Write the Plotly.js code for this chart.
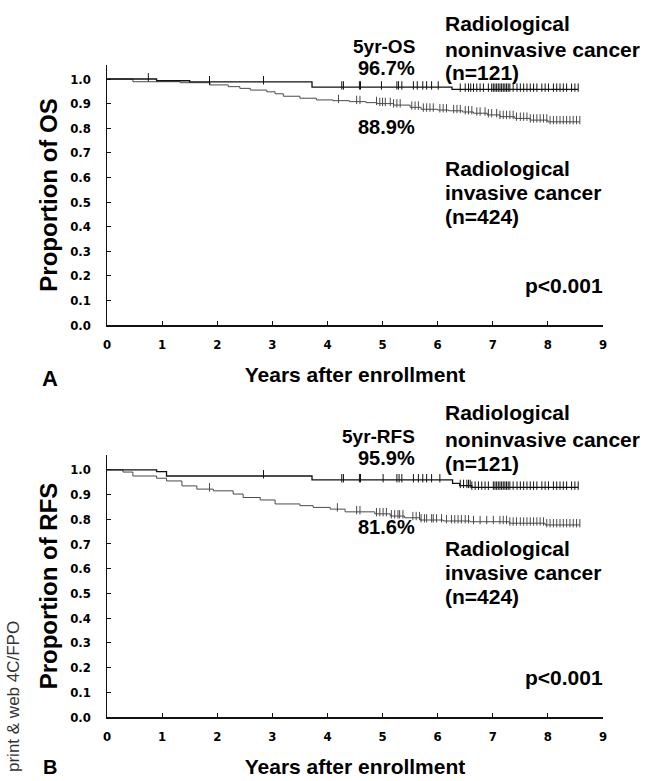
<!DOCTYPE html>
<html>
<head>
<meta charset="utf-8">
<script src="https://cdn.plot.ly/plotly-3.0.1.min.js"></script>
<style>html,body{margin:0;padding:0;background:#fff;}</style>
</head>
<body>
<div id="chart" style="width:646px;height:781px;"></div>
<script>
// ---------- data ----------
const xTicks = [0, 1, 2, 3, 4, 5, 6, 7, 8, 9];
const yTicks = [0, 0.1, 0.2, 0.3, 0.4, 0.5, 0.6, 0.7, 0.8, 0.9, 1.0];

// Panel A: overall survival
const osNonTime = [0, 0.9, 1.5, 3.72, 6.26, 8.55];
const osNonSurv = [1.0, 0.993, 0.988, 0.967, 0.958, 0.958];
const osNonCens = [0.75, 1.86, 2.84, 4.26, 4.29, 4.58, 4.60, 4.98, 5.26, 5.29, 5.35, 5.56, 5.63, 5.73, 5.80, 5.89, 6.01,
  6.41, 6.50, 6.56, 6.60, 6.65, 6.71, 6.77, 6.83, 6.92, 6.98, 7.01, 7.04, 7.07, 7.10, 7.13, 7.16, 7.19, 7.22, 7.25, 7.28, 7.31,
  7.37, 7.44, 7.50, 7.56, 7.62, 7.68, 7.74, 7.80, 7.89, 7.95, 8.01, 8.10, 8.16, 8.22, 8.28, 8.34, 8.43, 8.49, 8.55];

const osInvTime = [0, 0.47, 1.33, 1.87, 2.2, 2.41, 2.6, 2.9, 3.05, 3.2, 3.5, 3.8, 4.1, 4.4, 4.7, 4.9, 5.2, 5.5, 5.7, 6.0, 6.2, 6.45, 6.65, 6.9, 7.13, 7.4, 7.68, 8.0, 8.58];
const osInvSurv = [1.0, 0.989, 0.985, 0.976, 0.969, 0.962, 0.955, 0.948, 0.94, 0.93, 0.922, 0.915, 0.912, 0.908, 0.904, 0.9, 0.894, 0.885, 0.877, 0.874, 0.871, 0.866, 0.861, 0.854, 0.847, 0.84, 0.833, 0.826, 0.826];
const osInvCens = [1.86, 4.20, 4.53, 4.59, 4.89, 4.95, 5.00, 5.05, 5.14, 5.20, 5.26, 5.32, 5.53, 5.59, 5.65, 5.74, 5.80, 5.86, 5.92,
  6.04, 6.10, 6.16, 6.29, 6.35, 6.41, 6.50, 6.56, 6.62, 6.71, 6.77, 6.86, 6.92, 6.98, 7.07, 7.13, 7.19, 7.25, 7.31, 7.37, 7.43,
  7.50, 7.56, 7.62, 7.68, 7.74, 7.80, 7.86, 7.92, 7.98, 8.04, 8.10, 8.16, 8.22, 8.28, 8.34, 8.40, 8.46, 8.52, 8.58];

// Panel B: recurrence-free survival
const rfsNonTime = [0, 0.9, 1.08, 3.72, 6.27, 6.4, 6.62, 8.55];
const rfsNonSurv = [1.0, 0.993, 0.975, 0.959, 0.945, 0.936, 0.929, 0.929];
const rfsNonCens = [2.84, 4.26, 4.29, 4.58, 4.60, 5.01, 5.26, 5.30, 5.35, 5.56, 5.65, 5.73, 5.80, 5.89, 6.04,
  6.41, 6.47, 6.53, 6.56, 6.59, 6.62, 6.68, 6.74, 6.80, 6.86, 6.92, 7.01, 7.04, 7.07, 7.10, 7.13, 7.16, 7.19, 7.22, 7.25, 7.28, 7.31,
  7.37, 7.44, 7.50, 7.56, 7.62, 7.68, 7.74, 7.80, 7.89, 7.95, 8.01, 8.10, 8.16, 8.22, 8.28, 8.34, 8.43, 8.49, 8.55];

const rfsInvTime = [0, 0.29, 0.47, 0.9, 1.08, 1.36, 1.63, 1.93, 2.29, 2.47, 2.78, 3.05, 3.5, 3.74, 4.05, 4.32, 4.86, 5.14, 5.4, 5.68, 6.1, 6.59, 7.3, 7.95, 8.58];
const rfsInvSurv = [1.0, 0.991, 0.975, 0.966, 0.955, 0.935, 0.922, 0.915, 0.902, 0.888, 0.878, 0.862, 0.855, 0.848, 0.841, 0.83, 0.822, 0.813, 0.806, 0.797, 0.793, 0.79, 0.784, 0.777, 0.777];
const rfsInvCens = [1.86, 4.18, 4.53, 4.59, 4.89, 4.95, 5.01, 5.07, 5.16, 5.22, 5.28, 5.31, 5.37, 5.55, 5.61, 5.67, 5.70, 5.76, 5.80, 5.89, 5.92,
  5.98, 6.07, 6.16, 6.25, 6.31, 6.37, 6.43, 6.50, 6.56, 6.65, 6.77, 6.89, 7.01, 7.13, 7.19, 7.25, 7.31, 7.37, 7.43,
  7.50, 7.56, 7.62, 7.68, 7.74, 7.80, 7.86, 7.92, 7.98, 8.04, 8.10, 8.16, 8.22, 8.28, 8.34, 8.40, 8.46, 8.52, 8.58];

// ---------- helpers ----------
function stepAt(times, surv, t) {
  let s = surv[0];
  for (let i = 0; i < times.length; i++) { if (times[i] <= t) s = surv[i]; }
  return s;
}
const W = 646, H = 781, ML = 107, MR = 43, MT = 40, MB = 40;
const px = x => (x - ML) / (W - ML - MR);
const py = y => (H - MB - y) / (H - MT - MB);

const NARROW = '"DejaVu Sans Condensed", "Liberation Sans Narrow", sans-serif';
const SANS = '"Liberation Sans", Arial, sans-serif';
const DARK = '#111111', GREY = '#4a4a4a';

function curve(times, surv, color, width, xa, ya) {
  return { x: times, y: surv, xaxis: xa, yaxis: ya, type: 'scatter', mode: 'lines',
    line: { shape: 'hv', color: color, width: width }, hoverinfo: 'skip' };
}
function censor(cens, times, surv, color, xa, ya) {
  return { x: cens, y: cens.map(t => stepAt(times, surv, t) + 0.007), xaxis: xa, yaxis: ya,
    type: 'scatter', mode: 'markers', hoverinfo: 'skip',
    marker: { symbol: 'line-ns-open', size: 6, color: color, line: { color: color, width: 1 } } };
}

const data = [
  curve(osInvTime, osInvSurv, GREY, 1, 'x', 'y'),
  censor(osInvCens, osInvTime, osInvSurv, GREY, 'x', 'y'),
  curve(osNonTime, osNonSurv, DARK, 1.3, 'x', 'y'),
  censor(osNonCens, osNonTime, osNonSurv, DARK, 'x', 'y'),
  curve(rfsInvTime, rfsInvSurv, GREY, 1, 'x2', 'y2'),
  censor(rfsInvCens, rfsInvTime, rfsInvSurv, GREY, 'x2', 'y2'),
  curve(rfsNonTime, rfsNonSurv, DARK, 1.3, 'x2', 'y2'),
  censor(rfsNonCens, rfsNonTime, rfsNonSurv, DARK, 'x2', 'y2')
];

function xAxis(anchor) {
  return { anchor: anchor, domain: [0, 1], range: [0, 9], tickvals: xTicks, ticktext: xTicks.map(String),
    ticks: 'inside', ticklen: 4, tickwidth: 1, tickcolor: DARK, showline: true, linecolor: DARK, linewidth: 1.5,
    showgrid: false, zeroline: false, ticklabelstandoff: 7,
    tickfont: { family: NARROW, size: 13, weight: 'bold', color: '#000' },
    title: { text: 'Years after enrollment', standoff: 16, font: { family: SANS, size: 21, weight: 'bold', color: '#000' } } };
}
function yAxis(anchor, domain, top, label) {
  return { anchor: anchor, domain: domain, range: [0, top], tickvals: yTicks, ticktext: yTicks.map(v => v.toFixed(1)),
    ticks: 'inside', ticklen: 4, tickwidth: 1, tickcolor: DARK, showline: true, linecolor: DARK, linewidth: 1.5,
    showgrid: false, zeroline: false, ticklabelstandoff: 12,
    tickfont: { family: NARROW, size: 13, weight: 'bold', color: '#000' },
    title: { text: label, standoff: 6, font: { family: SANS, size: 24, weight: 'bold', color: '#000' } } };
}

function txt(text, x, y, size, xanchor, extra) {
  return Object.assign({ text: text, xref: 'paper', yref: 'paper', x: px(x), y: py(y), xanchor: xanchor, yanchor: 'middle',
    showarrow: false, font: { family: SANS, size: size, weight: 'bold', color: '#000' } }, extra || {});
}

const annotations = [
  // Panel A
  txt('5yr-OS', 417, 47, 19, 'right'),
  txt('96.7%', 417, 68, 20, 'right'),
  txt('88.9%', 417, 127, 20, 'right'),
  txt('Radiological', 443, 23, 21, 'left'),
  txt('noninvasive cancer', 443, 49, 21, 'left'),
  txt('(n=121)', 443, 73, 21, 'left'),
  txt('Radiological', 443, 168, 21, 'left'),
  txt('invasive cancer', 443, 193, 21, 'left'),
  txt('(n=424)', 443, 216, 21, 'left'),
  txt('p&lt;0.001', 605, 285, 21, 'right'),
  txt('A', 50, 379, 22, 'center'),
  // Panel B
  txt('5yr-RFS', 417, 437, 19, 'right'),
  txt('95.9%', 417, 458, 20, 'right'),
  txt('81.6%', 417, 527, 20, 'right'),
  txt('Radiological', 443, 413, 21, 'left'),
  txt('noninvasive cancer', 443, 439, 21, 'left'),
  txt('(n=121)', 443, 463, 21, 'left'),
  txt('Radiological', 443, 548, 21, 'left'),
  txt('invasive cancer', 443, 572, 21, 'left'),
  txt('(n=424)', 443, 596, 21, 'left'),
  txt('p&lt;0.001', 605, 677, 21, 'right'),
  txt('B', 50, 767, 20, 'center'),
  // side note
  txt('print &amp; web 4C/FPO', 13, 697, 17, 'center', { textangle: -90, font: { family: SANS, size: 17, color: '#333' } })
];

const layout = {
  width: W, height: H, margin: { l: ML, r: MR, t: MT, b: MB },
  paper_bgcolor: '#fff', plot_bgcolor: '#fff', showlegend: false,
  xaxis: xAxis('y'),
  yaxis: yAxis('x', [py(325), py(65)], 1.057, 'Proportion of OS'),
  xaxis2: xAxis('y2'),
  yaxis2: yAxis('x2', [py(717), py(455)], 1.06, 'Proportion of RFS'),
  annotations: annotations
};

Plotly.newPlot('chart', data, layout, { displayModeBar: false, staticPlot: true });
</script>
</body>
</html>
